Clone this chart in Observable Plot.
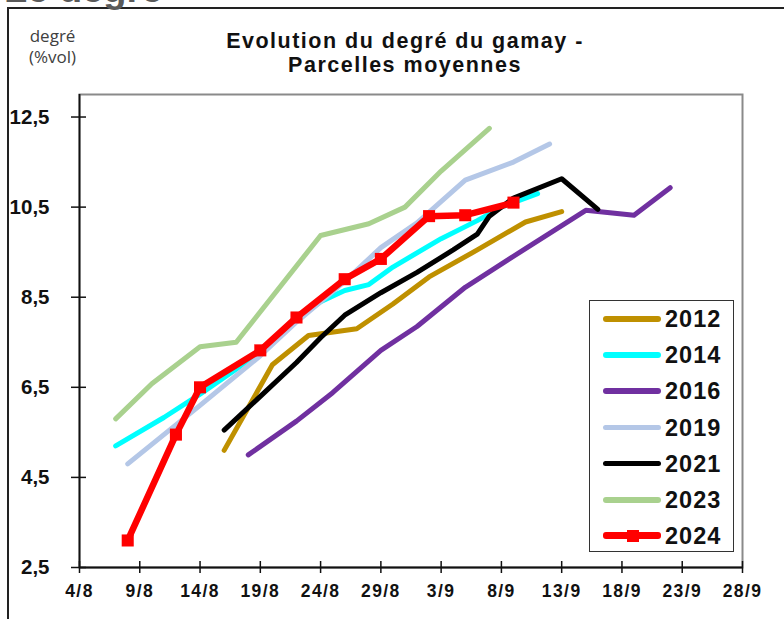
<!DOCTYPE html>
<html>
<head>
<meta charset="utf-8">
<script src="https://cdn.jsdelivr.net/npm/d3@7"></script>
<script src="https://cdn.jsdelivr.net/npm/@observablehq/plot@0.6"></script>
<style>
  html, body { margin: 0; padding: 0; background: #fff; }
  #wrap { position: relative; width: 784px; height: 619px; overflow: hidden; font-family: "Liberation Sans", Arial, sans-serif; }
  #chart { position: absolute; left: 0; top: 0; }
  .abs { position: absolute; white-space: nowrap; }
  #frame { position: absolute; left: 7px; top: 7px; width: 900px; height: 900px; border-left: 2px solid #222; border-top: 2px solid #222; }
  #big { left: 4px; top: -30px; font-size: 38px; font-weight: bold; color: #5a5a5a; line-height: 38px; }
  #unit { left: 29px; top: 25px; font-family: "Open Sans", "Noto Sans", sans-serif; font-size: 17px; line-height: 21px; color: #404040; text-align: center; }
  #title { left: 150px; width: 510px; top: 29px; font-size: 21.5px; font-weight: bold; line-height: 24px; text-align: center; letter-spacing: 1.5px; color: #111; }
  #legend { position: absolute; left: 589px; top: 300px; width: 145px; height: 252px; border: 1.5px solid #333; background: #fff; box-sizing: border-box; }
  .row { position: absolute; left: 0; height: 30px; width: 145px; }
  .sw { position: absolute; left: 13px; top: 12px; width: 58px; height: 5.5px; border-radius: 3px; }
  .mk { position: absolute; left: 37px; top: 8.5px; width: 12px; height: 12px; background: #f00; }
  .lab { position: absolute; left: 75px; top: 1px; font-size: 23.5px; font-weight: bold; letter-spacing: 1px; line-height: 28px; color: #111; }
  g[aria-label="x-axis tick label"] text { letter-spacing: 1.4px; }
</style>
</head>
<body>
<div id="wrap">
  <div id="chart"></div>
  <div id="frame"></div>
  <div class="abs" id="big">Le degré</div>
  <div class="abs" id="unit">degré<br>(%vol)</div>
  <div class="abs" id="title">Evolution du degré du gamay -<br>Parcelles moyennes</div>
  <div id="legend"></div>
</div>
<script>
// ---- data ----
const xTickLabels = ["4/8","9/8","14/8","19/8","24/8","29/8","3/9","8/9","13/9","18/9","23/9","28/9"];
const yTicks = [2.5, 4.5, 6.5, 8.5, 10.5, 12.5];
const years = ["2012","2014","2016","2019","2021","2023","2024"];
const colors = ["#BF9000","#00FFFF","#7030A0","#B4C7E7","#000000","#A9D18E","#FF0000"];

const dates2012 = ["16/8","20/8","23/8","27/8","30/8","2/9","6/9","10/9","13/9"];
const degre2012 = [5.1, 7.0, 7.65, 7.8, 8.35, 8.95, 9.55, 10.17, 10.4];

const dates2014 = ["7/8","11/8","14/8","17/8","19/8","22/8","24/8","26/8","28/8","30/8","3/9","6/9","8/9","11/9"];
const degre2014 = [5.2, 5.83, 6.35, 6.9, 7.3, 8.0, 8.4, 8.65, 8.78, 9.17, 9.8, 10.2, 10.5, 10.8];

const dates2016 = ["18/8","22/8","25/8","29/8","1/9","5/9","10/9","15/9","19/9","22/9"];
const degre2016 = [5.0, 5.75, 6.38, 7.32, 7.85, 8.72, 9.58, 10.43, 10.32, 10.93];

const dates2019 = ["8/8","14/8","19/8","22/8","26/8","29/8","1/9","5/9","9/9","12/9"];
const degre2019 = [4.8, 6.1, 7.2, 7.95, 8.85, 9.6, 10.15, 11.1, 11.5, 11.9];

const dates2021 = ["16/8","19/8","22/8","24/8","26/8","29/8","1/9","4/9","6/9","7/9","9/9","13/9","16/9"];
const degre2021 = [5.55, 6.3, 7.05, 7.6, 8.1, 8.6, 9.05, 9.55, 9.9, 10.3, 10.7, 11.13, 10.45];

const dates2023 = ["7/8","10/8","14/8","17/8","24/8","28/8","31/8","3/9","7/9"];
const degre2023 = [5.8, 6.58, 7.4, 7.5, 9.87, 10.13, 10.5, 11.3, 12.25];

const dates2024 = ["8/8","12/8","14/8","19/8","22/8","26/8","29/8","2/9","5/9","9/9"];
const degre2024 = [3.1, 5.45, 6.5, 7.32, 8.05, 8.9, 9.35, 10.3, 10.32, 10.6];

// ---- build ----
const parseDM = s => { const [d, m] = s.split("/").map(Number); return new Date(Date.UTC(2024, m - 1, d)); };
const seriesDates = [dates2012, dates2014, dates2016, dates2019, dates2021, dates2023, dates2024];
const seriesVals = [degre2012, degre2014, degre2016, degre2019, degre2021, degre2023, degre2024];
const series = years.map((y, i) => seriesDates[i].map((d, j) => ({year: y, date: parseDM(d), value: seriesVals[i][j]})));
const xTicks = xTickLabels.map(parseDM);
const fmtX = d => `${d.getUTCDate()}/${d.getUTCMonth() + 1}`;
const fmtY = v => v.toFixed(1).replace(".", ",");

const lineMarks = series.map((data, i) => Plot.line(data, {
  x: "date", y: "value", stroke: colors[i],
  strokeWidth: years[i] === "2024" ? 6.5 : 5,
  strokeLinecap: "round", strokeLinejoin: "round"
}));

const chart = Plot.plot({
  width: 784, height: 619,
  marginLeft: 79, marginRight: 42, marginTop: 94, marginBottom: 52,
  style: {fontFamily: '"Liberation Sans", Arial, sans-serif', background: "transparent", overflow: "visible"},
  x: {type: "utc", domain: [xTicks[0], xTicks[xTicks.length - 1]]},
  y: {domain: [2.5, 13]},
  marks: [
    Plot.frame({stroke: "#8a8a8a", strokeWidth: 2}),
    Plot.ruleX([xTicks[0]], {stroke: "#111", strokeWidth: 1.8}),
    Plot.ruleY([2.5], {stroke: "#111", strokeWidth: 1.8}),
    Plot.axisY({ticks: yTicks, tickSize: 15, dx: 7, fill: "none", stroke: "#111", strokeWidth: 1.5, label: null}),
    Plot.axisY({ticks: yTicks, tickSize: 0, tickPadding: 30, tickFormat: fmtY, fontSize: 20.5, fontWeight: "bold", fill: "#111", label: null}),
    Plot.axisX({ticks: xTicks, tickSize: 12, dy: -6, fill: "none", stroke: "#111", strokeWidth: 1.5, label: null}),
    Plot.axisX({ticks: xTicks, tickSize: 0, tickPadding: 17, tickFormat: fmtX, fontSize: 17.5, fontWeight: "bold", fill: "#111", label: null}),
    ...lineMarks,
    Plot.dot(series[6], {x: "date", y: "value", symbol: "square", r: 6.8, fill: "#FF0000", stroke: "none"})
  ]
});
document.getElementById("chart").appendChild(chart);

// ---- legend ----
const legend = document.getElementById("legend");
years.forEach((y, i) => {
  const row = document.createElement("div");
  row.className = "row";
  row.style.top = (3 + i * 36.2) + "px";
  const sw = document.createElement("div");
  sw.className = "sw";
  sw.style.background = colors[i];
  if (y === "2024") { sw.style.height = "6.5px"; sw.style.top = "11px"; }
  row.appendChild(sw);
  if (y === "2024") { const mk = document.createElement("div"); mk.className = "mk"; row.appendChild(mk); }
  const lab = document.createElement("div");
  lab.className = "lab";
  lab.textContent = y;
  row.appendChild(lab);
  legend.appendChild(row);
});
</script>
</body>
</html>
